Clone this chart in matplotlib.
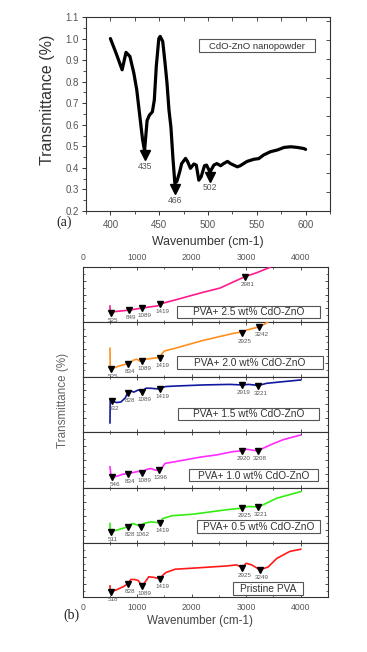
import matplotlib
matplotlib.use("Agg")
import matplotlib.pyplot as plt
import numpy as np
from matplotlib.ticker import MultipleLocator, NullFormatter
from matplotlib.patches import Rectangle

plt.rcParams['font.family'] = ['Liberation Sans', 'DejaVu Sans']

# ---------------- data : panel (a) ----------------
wn_a = [400, 406, 412, 416, 420, 424, 427, 431, 433, 435, 437.6, 440, 443, 445, 447,
        449.6, 451, 453.6, 456, 458, 460, 462, 464, 466,
        468, 471, 473, 477, 479, 482, 485.5, 488, 490.6, 493, 496.4, 498.5, 501, 502,
        506, 509, 513, 516, 520, 523, 530, 533, 540, 547, 552, 557, 564, 571, 578,
        585, 591.5, 598, 600]
tr_a = [1.0, 0.93, 0.855, 0.936, 0.917, 0.84, 0.762, 0.607, 0.53, 0.48, 0.62, 0.645, 0.66,
        0.715, 0.87, 1.0, 1.01, 0.987, 0.886, 0.793, 0.669, 0.59, 0.45, 0.33,
        0.336, 0.382, 0.42, 0.444, 0.43, 0.398, 0.418, 0.413, 0.343, 0.359, 0.41, 0.413,
        0.39, 0.38, 0.413, 0.42, 0.41, 0.42, 0.43, 0.42, 0.405, 0.41, 0.43, 0.44, 0.443,
        0.46, 0.475, 0.483, 0.495, 0.498, 0.495, 0.49, 0.486]
peaks_a = [435, 466, 502]
peak_y_a = [0.458, 0.30, 0.36]
peak_lab_y_a = [0.408, 0.249, 0.311]
legend_a = "CdO-ZnO nanopowder"

# ---------------- data : panel (b) ----------------
labels_b = ["PVA+ 2.5 wt% CdO-ZnO", "PVA+ 2.0 wt% CdO-ZnO", "PVA+ 1.5 wt% CdO-ZnO",
            "PVA+ 1.0 wt% CdO-ZnO", "PVA+ 0.5 wt% CdO-ZnO", "Pristine PVA"]
colors_b = ["#ff1a8c", "#ff9020", "#1018a0", "#ff2cff", "#33ee10", "#ff1a1a"]

wn_25 = [500, 505, 525, 600, 700, 849, 1000, 1089, 1200, 1350, 1400, 1419, 1500, 1800,
         2200, 2520, 2760, 2981, 3190, 3440]
tr_25 = [0.29, 0.18, 0.172, 0.19, 0.20, 0.215, 0.24, 0.25, 0.27, 0.29, 0.30, 0.325, 0.35,
         0.43, 0.54, 0.62, 0.73, 0.83, 0.90, 1.0]
pk_25 = [525, 849, 1089, 1419, 2981]

wn_20 = [500, 505, 525, 650, 834, 930, 990, 1060, 1150, 1250, 1350, 1419, 1455, 1500, 1700,
         2200, 2760, 2880, 2925, 3000, 3200, 3284, 3400]
tr_20 = [0.52, 0.15, 0.14, 0.19, 0.24, 0.30, 0.32, 0.28, 0.32, 0.33, 0.345, 0.345, 0.42,
         0.47, 0.52, 0.66, 0.79, 0.81, 0.79, 0.85, 0.90, 0.93, 1.0]
pk_20 = [525, 834, 1089, 1419, 2925, 3242]

wn_15 = [500, 505, 532, 624, 700, 777, 828, 880, 940, 1021, 1089, 1156, 1250, 1350, 1419,
         1511, 1694, 2214, 2700, 2919, 3050, 3221, 3376, 3681, 3990]
tr_15 = [0.16, 0.58, 0.56, 0.53, 0.54, 0.61, 0.71, 0.74, 0.72, 0.76, 0.72, 0.79, 0.79,
         0.78, 0.78, 0.82, 0.83, 0.85, 0.86, 0.85, 0.86, 0.84, 0.88, 0.91, 0.94]
pk_15 = [532, 828, 1089, 1419, 2919, 3221]

wn_10 = [500, 520, 546, 650, 740, 834, 930, 1021, 1089, 1160, 1250, 1340, 1396, 1460, 1511,
         1694, 2152, 2458, 2764, 2920, 3010, 3140, 3208, 3315, 3498, 3681, 3990]
tr_10 = [0.38, 0.21, 0.195, 0.22, 0.25, 0.26, 0.28, 0.30, 0.27, 0.33, 0.35, 0.32, 0.32,
         0.37, 0.44, 0.47, 0.55, 0.59, 0.65, 0.66, 0.69, 0.67, 0.66, 0.71, 0.79, 0.86, 0.94]
pk_10 = [546, 834, 1089, 1396, 2920, 3208]

wn_05 = [500, 505, 511, 624, 828, 920, 1010, 1062, 1120, 1250, 1340, 1419, 1470, 1630,
         2027, 2638, 2925, 3040, 3221, 3310, 3560, 4000]
tr_05 = [0.36, 0.22, 0.20, 0.24, 0.30, 0.36, 0.33, 0.30, 0.36, 0.39, 0.38, 0.37, 0.45,
         0.50, 0.53, 0.61, 0.64, 0.67, 0.66, 0.70, 0.82, 0.94]
pk_05 = [511, 828, 1062, 1419, 2925, 3221]

wn_00 = [500, 505, 518, 624, 750, 828, 883, 950, 1020, 1089, 1150, 1211, 1300, 1390, 1419,
         1470, 1530, 1694, 2027, 2638, 2823, 2925, 3000, 3100, 3249, 3400, 3560, 3800, 4000]
tr_00 = [0.21, 0.13, 0.105, 0.14, 0.20, 0.25, 0.33, 0.33, 0.31, 0.21, 0.29, 0.38, 0.37,
         0.35, 0.34, 0.41, 0.46, 0.52, 0.54, 0.58, 0.60, 0.55, 0.63, 0.60, 0.51, 0.56,
         0.72, 0.85, 0.89]
pk_00 = [518, 828, 1089, 1419, 2925, 3249]

series_b = [(wn_25, tr_25, pk_25), (wn_20, tr_20, pk_20), (wn_15, tr_15, pk_15),
            (wn_10, tr_10, pk_10), (wn_05, tr_05, pk_05), (wn_00, tr_00, pk_00)]

# ---------------- layout ----------------
W, H = 367, 652
fig = plt.figure(figsize=(W / 100, H / 100), dpi=100)


def rect(l, t, r, b):
    return [l / W, 1 - b / H, (r - l) / W, (b - t) / H]


def fig_box(l, t, r, b, text, fs, color='#333333'):
    fig.add_artist(Rectangle((l / W, 1 - b / H), (r - l) / W, (b - t) / H,
                             transform=fig.transFigure, facecolor='white',
                             edgecolor='#555555', lw=0.8, zorder=5))
    cap = fs * 100 / 72 * 0.716           # cap height in pixels
    base = (t + b) / 2 + cap / 2          # baseline so that capitals are centred
    fig.text((l + r) / 2 / W, 1 - base / H, text, fontsize=fs, color=color,
             ha='center', va='baseline', zorder=6)


spine_col = '#333333'
tick_col = '#555555'

# ---------------- panel (a) ----------------
axa = fig.add_axes(rect(86, 17, 330, 211))
axa.plot(wn_a, tr_a, color='black', lw=2.3, solid_joinstyle='round',
         solid_capstyle='round', zorder=3)
axa.plot(peaks_a, peak_y_a, 'v', color='black', ms=7, zorder=4)
for p, ly in zip(peaks_a, peak_lab_y_a):
    axa.text(p, ly, str(p), fontsize=6.2, color='#555555', ha='center', va='center')
axa.set_xlim(375, 625)
axa.set_ylim(0.2, 1.1)
axa.xaxis.set_major_locator(MultipleLocator(50))
axa.xaxis.set_minor_locator(MultipleLocator(25))
axa.yaxis.set_major_locator(MultipleLocator(0.1))
axa.yaxis.set_minor_locator(MultipleLocator(0.05))
axa.yaxis.set_major_formatter(matplotlib.ticker.FormatStrFormatter('%.1f'))
axa.tick_params(axis='both', which='both', direction='out', colors=spine_col,
                labelcolor=tick_col, labelsize=7, top=False, right=False)
axa.tick_params(which='major', length=3, width=0.7)
axa.tick_params(which='minor', length=2, width=0.6)
axa.tick_params(axis='x', pad=3.5)
axa.tick_params(axis='y', pad=2)
for s in axa.spines.values():
    s.set_color(spine_col)
    s.set_linewidth(0.8)
# top (inward) ticks
sec_top = axa.secondary_xaxis('top')
sec_top.xaxis.set_major_locator(MultipleLocator(25))
sec_top.tick_params(direction='in', length=3, width=0.6, colors=spine_col, labeltop=False)
sec_top.spines['top'].set_visible(False)
# right (inward) ticks
axr = axa.twinx()
axr.set_ylim(0, 1.021)
axr.yaxis.set_major_locator(MultipleLocator(0.1))
axr.yaxis.set_major_formatter(NullFormatter())
axr.tick_params(direction='in', length=3, width=0.6, colors=spine_col)
for s in axr.spines.values():
    s.set_visible(False)

fig_box(199, 39, 315, 52, legend_a, 6.8)
fig.text(48 / W, 1 - 100 / H, "Transmittance (%)", rotation=90, fontsize=11.5,
         color='#333333', ha='center', va='center')
fig.text(208 / W, 1 - 242 / H, "Wavenumber (cm-1)", fontsize=8.8, color='#333333',
         ha='center', va='center')
fig.text(64 / W, 1 - 222 / H, "(a)", fontsize=10, family='Liberation Serif',
         ha='center', va='center', color='#222222')

# ---------------- panel (b) ----------------
bounds = [267.3, 321.9, 376.7, 431.7, 488.3, 543.3, 597.3]
boxes_b = [(177, 305.5, 320, 317.5), (177, 356, 323, 368.5), (178, 407.5, 319, 420),
           (189, 469, 318, 481), (197, 520, 320, 532.7), (233, 582, 303, 594.5)]

for i, ((wn, tr, pk), col, lab) in enumerate(zip(series_b, colors_b, labels_b)):
    ax = fig.add_axes(rect(82.7, bounds[i], 328, bounds[i + 1]))
    ax.plot(wn, tr, color=col, lw=1.2, solid_joinstyle='round', zorder=3)
    py = np.interp(pk, wn, tr)
    ax.plot(pk, py, 'v', color='black', ms=4.2, zorder=4)
    for p, y in zip(pk, py):
        ax.annotate(str(p), (p, y), xytext=(1.5, -5.5), textcoords='offset points',
                    fontsize=4.5, color='#555555', ha='center', va='center')
    ax.set_xlim(0, 4500)
    ax.set_ylim(0, 1)
    ax.xaxis.set_major_locator(MultipleLocator(1000))
    ax.xaxis.set_minor_locator(MultipleLocator(500))
    ax.yaxis.set_major_locator(MultipleLocator(0.25))
    ax.yaxis.set_minor_locator(MultipleLocator(0.125))
    ax.yaxis.set_major_formatter(NullFormatter())
    ax.tick_params(axis='both', which='both', direction='in', top=True, right=True,
                   colors=spine_col, labelcolor=tick_col, labelsize=6.2,
                   labelbottom=(i == 5), labeltop=(i == 0), labelleft=False)
    ax.tick_params(which='major', length=2.5, width=0.6)
    ax.tick_params(which='minor', length=1.5, width=0.5)
    ax.tick_params(axis='x', pad=4)
    for s in ax.spines.values():
        s.set_color(spine_col)
        s.set_linewidth(0.8)
    fig_box(*boxes_b[i], lab, 7.3)

fig.text(63 / W, 1 - 400 / H, "Transmittance (%)", rotation=90, fontsize=8.4,
         color='#666666', ha='center', va='center')
fig.text(200 / W, 1 - 621 / H, "Wavenumber (cm-1)", fontsize=8.4, color='#444444',
         ha='center', va='center')
fig.text(71 / W, 1 - 615 / H, "(b)", fontsize=10, family='Liberation Serif',
         ha='center', va='center', color='#222222')

fig.savefig("out.png", dpi=100)
